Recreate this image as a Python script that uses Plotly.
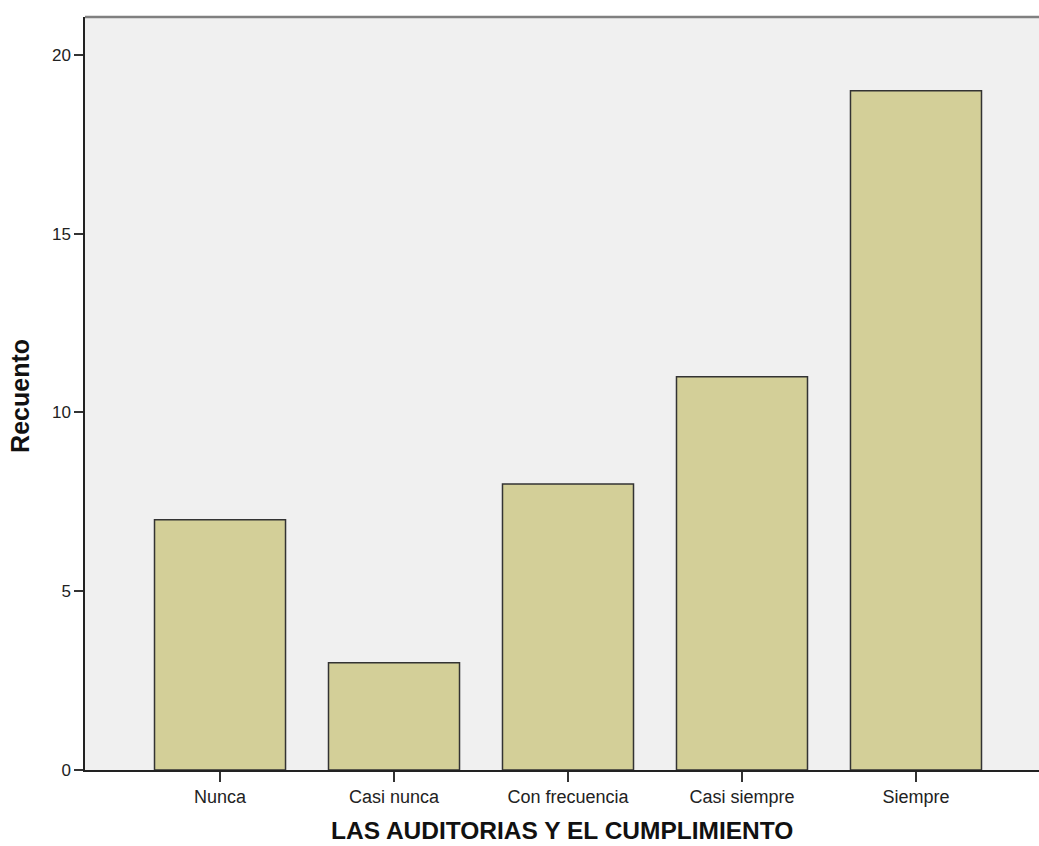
import plotly.graph_objects as go

# Frequency counts per response category
categories = ["Nunca", "Casi nunca", "Con frecuencia", "Casi siempre", "Siempre"]
counts = [7, 3, 8, 11, 19]
y_ticks = [0, 5, 10, 15, 20]

FONT = "Liberation Sans, Arial, sans-serif"

fig = go.Figure(
    go.Bar(
        x=categories,
        y=counts,
        width=0.753,
        marker=dict(color="#d3cf98", line=dict(color="#333333", width=1.5)),
        hoverinfo="x+y",
    )
)

fig.update_layout(
    width=1039,
    height=846,
    margin=dict(l=85, r=0, t=17, b=76),
    paper_bgcolor="white",
    plot_bgcolor="#f0f0f0",
    showlegend=False,
    font=dict(family=FONT, color="#222222"),
    xaxis=dict(
        type="category",
        range=[-0.776, 4.707],
        showgrid=False,
        zeroline=False,
        showline=True,
        linecolor="#222222",
        linewidth=1.5,
        ticks="outside",
        ticklen=10,
        tickwidth=1.5,
        tickcolor="#333333",
        tickfont=dict(size=18, family=FONT, color="#222222"),
    ),
    yaxis=dict(
        range=[0, 21.06],
        tickvals=y_ticks,
        showgrid=False,
        zeroline=False,
        showline=True,
        linecolor="#222222",
        linewidth=1.5,
        ticks="outside",
        ticklen=9,
        tickwidth=1.5,
        tickcolor="#333333",
        tickfont=dict(size=17, family=FONT, color="#222222"),
    ),
    shapes=[
        dict(
            type="line", xref="paper", yref="paper",
            x0=0, x1=1, y0=1, y1=1,
            line=dict(color="#808080", width=2.5),
        )
    ],
    annotations=[
        dict(
            text="<b>LAS AUDITORIAS Y EL CUMPLIMIENTO</b>",
            xref="paper", yref="paper", x=0.5, y=-0.0797,
            xanchor="center", yanchor="middle", showarrow=False,
            borderpad=0,
            font=dict(size=24.5, family=FONT, color="#111111"),
        ),
        dict(
            text="<b>Recuento</b>",
            xref="paper", yref="paper", x=-0.068, y=0.497,
            xanchor="center", yanchor="middle", showarrow=False,
            textangle=-90,
            font=dict(size=25, family=FONT, color="#111111"),
        ),
    ],
)

fig.write_html("out.html")
